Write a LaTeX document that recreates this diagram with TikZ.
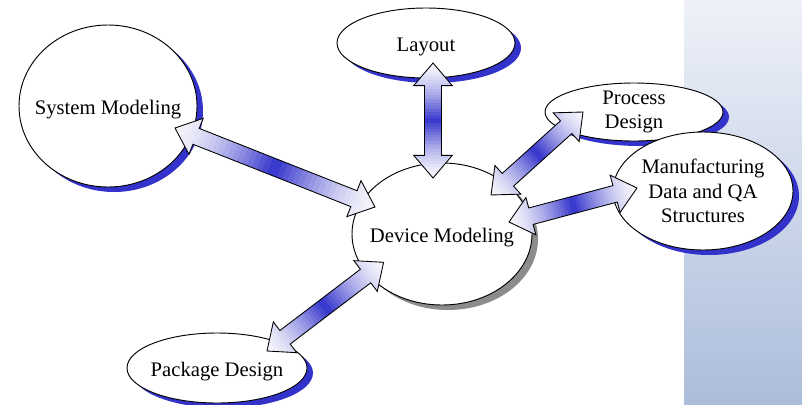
\documentclass[tikz,border=0pt]{standalone}
\usepackage{fontspec}
\setmainfont{Liberation Serif}
\usetikzlibrary{shapes.geometric,shadows}

\definecolor{shadeblue}{RGB}{51,51,204}
\definecolor{paleend}{RGB}{246,246,252}
\definecolor{panelTop}{RGB}{238,241,248}
\definecolor{panelBot}{RGB}{172,189,219}
\definecolor{shadowgray}{RGB}{140,140,140}

% block double arrow dimensions (pt)
\newcommand\headlen{17}
\newcommand\headhw{14.5}
\newcommand\shafthw{6.4}

\newcommand\arrowoutline{(0pt,0pt) -- (\headlen pt,\headhw pt) -- (\headlen pt,\shafthw pt)
  -- (\fneck pt,\shafthw pt) -- (\fneck pt,\headhw pt) -- (\flen pt,0pt)
  -- (\fneck pt,-\headhw pt) -- (\fneck pt,-\shafthw pt) -- (\headlen pt,-\shafthw pt)
  -- (\headlen pt,-\headhw pt) -- cycle}

% fat double arrow between two named points, shaded pale-blue-pale along its axis
\newcommand\fatarrow[2]{%
  \path (#1); \pgfgetlastxy{\fax}{\fay}%
  \path (#2); \pgfgetlastxy{\fbx}{\fby}%
  \pgfmathsetmacro\fdx{\fbx-\fax}%
  \pgfmathsetmacro\fdy{\fby-\fay}%
  \pgfmathsetmacro\flen{veclen(\fdx,\fdy)}%
  \pgfmathsetmacro\fang{atan2(\fdy,\fdx)}%
  \pgfmathsetmacro\fneck{\flen-\headlen}%
  \begin{scope}[shift={(#1)}, rotate=\fang]
    \begin{scope}
      \clip \arrowoutline;
      \foreach \i in {0,...,39}{%
        \pgfmathsetmacro\xa{\i*\flen/40}%
        \pgfmathsetmacro\xb{(\i+1)*\flen/40+0.4}%
        \pgfmathsetmacro\mix{100*pow(1-abs(2*(\i+0.5)/40-1),1.5)}%
        \fill[shadeblue!\mix!paleend] (\xa pt,-\headhw pt) rectangle (\xb pt,\headhw pt);
      }
    \end{scope}
    \draw[arrowline] \arrowoutline;
  \end{scope}}

\tikzset{
  bubblebase/.style={ellipse, draw=black, line width=0.7pt, fill=white,
    inner sep=-12pt, align=center, font=\fontsize{15.5}{18.5}\selectfont},
  bubble/.style={bubblebase,
    general shadow={fill=shadeblue, shadow xshift=4.5pt, shadow yshift=-3.75pt}},
  hubbubble/.style={bubblebase,
    general shadow={fill=shadowgray, shadow xshift=4.5pt, shadow yshift=-3.75pt}},
  oneline/.style={text height=16.5pt, text depth=3.4pt},
  arrowline/.style={draw=black, line width=0.65pt, line join=miter},
}

\begin{document}
\begin{tikzpicture}[x=0.75pt, y=-0.75pt]
  \useasboundingbox (0,0) rectangle (802,404);

  % side panel
  \shade[top color=panelTop, bottom color=panelBot] (684,0) rectangle (802,404);

  % topic bubbles
  \node[bubble, oneline, minimum width=178*0.75pt, minimum height=162*0.75pt] (sys) at (108,106) {System Modeling};
  \node[bubble, oneline, minimum width=178*0.75pt, minimum height=70*0.75pt] (lay) at (426,43) {Layout};
  \node[bubble, minimum width=178*0.75pt, minimum height=58*0.75pt] (proc) at (634,112) {Process\\Design};
  \node[bubble, minimum width=180*0.75pt, minimum height=118*0.75pt] (manu) at (703,191) {Manufacturing\\Data and QA\\Structures};
  \node[hubbubble, oneline, minimum width=180*0.75pt, minimum height=142*0.75pt] (dev) at (442,234) {Device Modeling};
  \node[bubble, oneline, minimum width=180*0.75pt, minimum height=70*0.75pt] (pack) at (217,368) {Package Design};

  % arrow end points
  \coordinate (lay-end) at (433,63);
  \coordinate (dev-lay) at (433,178);
  \coordinate (sys-end) at (175,128);
  \coordinate (dev-sys) at (375,207);
  \coordinate (proc-end) at (583,112);
  \coordinate (dev-proc) at (491,195);
  \coordinate (manu-end) at (637,188);
  \coordinate (dev-manu) at (509,222);
  \coordinate (pack-end) at (267,351);
  \coordinate (dev-pack) at (384,262);

  % connectors
  \fatarrow{lay-end}{dev-lay}
  \fatarrow{sys-end}{dev-sys}
  \fatarrow{proc-end}{dev-proc}
  \fatarrow{manu-end}{dev-manu}
  \fatarrow{pack-end}{dev-pack}
\end{tikzpicture}
\end{document}
